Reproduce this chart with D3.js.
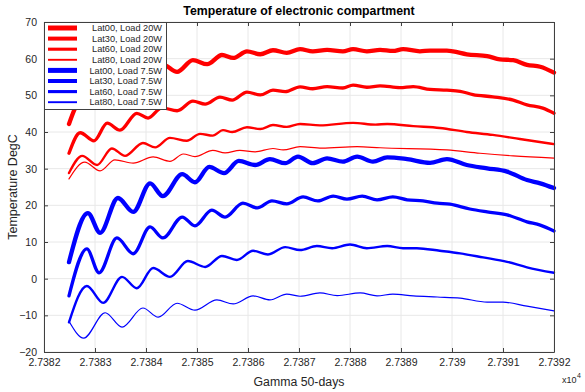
<!DOCTYPE html>
<html>
<head>
<meta charset="utf-8">
<script src="https://cdn.jsdelivr.net/npm/d3@7"></script>
<style>
  body { margin: 0; background: #fff; }
  svg { font-family: "Liberation Sans", Arial, sans-serif; }
</style>
</head>
<body>
<div id="chart"></div>
<script>
// days are offsets from 27382 (x axis shown in units of 1e4)
const DAY0 = 27382;

const lat00_20W = [[0.49,42.2],[0.61,46.5],[0.80,50.5],[1.04,48.3],[1.33,53.0],[1.55,51.4],[1.85,55.3],[2.08,54.0],[2.33,58.4],[2.61,56.4],[2.92,59.6],[3.20,58.5],[3.49,61.0],[3.71,60.2],[3.98,62.0],[4.24,61.2],[4.49,62.3],[4.76,61.6],[5.02,62.6],[5.27,62.0],[5.55,62.4],[5.86,62.0],[6.06,62.6],[6.33,62.0],[6.59,62.4],[6.84,62.1],[7.04,62.6],[7.37,62.0],[7.57,62.2],[7.90,62.2],[8.02,62.0],[8.29,61.2],[8.69,60.7],[8.94,59.8],[9.20,59.6],[9.47,58.3],[9.73,57.8],[10.0,56.2]];
const lat30_20W = [[0.49,34.2],[0.71,39.8],[0.98,37.6],[1.24,42.4],[1.49,40.5],[1.82,45.1],[2.04,43.8],[2.31,46.6],[2.61,45.8],[2.92,48.4],[3.16,47.6],[3.45,49.5],[3.69,48.7],[3.98,50.9],[4.24,50.1],[4.49,51.4],[4.73,51.0],[5.02,52.3],[5.27,51.8],[5.55,52.4],[5.86,52.0],[6.06,52.8],[6.33,52.2],[6.59,52.6],[6.98,52.1],[7.24,52.4],[7.57,51.6],[7.90,51.4],[8.16,51.1],[8.41,50.2],[8.80,49.6],[9.20,48.7],[9.47,47.4],[9.78,46.5],[10.0,45.1]];
const lat60_20W = [[0.49,28.8],[0.75,33.5],[1.04,31.0],[1.33,35.5],[1.59,33.5],[1.94,37.0],[2.18,35.8],[2.47,38.4],[2.80,37.6],[3.06,39.5],[3.31,39.0],[3.51,40.5],[3.69,40.0],[3.98,41.3],[4.24,40.8],[4.49,41.9],[4.76,41.4],[5.02,42.2],[5.41,41.8],[6.06,42.5],[6.50,42.0],[6.73,42.2],[7.24,41.6],[7.76,41.1],[8.29,40.0],[8.80,39.2],[9.33,38.1],[10.0,36.7]];
const lat80_20W = [[0.49,27.2],[0.80,31.8],[1.10,29.4],[1.39,32.4],[1.75,31.5],[2.14,33.2],[2.47,32.0],[2.73,34.0],[2.96,33.3],[3.31,35.0],[3.55,34.3],[3.84,35.0],[4.14,34.6],[4.49,35.5],[4.69,35.1],[5.02,36.0],[5.45,35.6],[6.14,36.0],[6.59,35.7],[7.90,35.1],[8.55,34.2],[9.20,33.5],[10.0,32.9]];
const lat00_75W = [[0.49,4.5],[0.86,17.9],[1.10,12.5],[1.45,22.0],[1.75,18.2],[2.08,26.0],[2.33,22.5],[2.71,28.5],[2.96,26.3],[3.24,30.5],[3.53,28.8],[3.82,32.1],[4.14,31.0],[4.43,32.6],[4.73,31.5],[4.98,33.3],[5.27,31.5],[5.55,32.8],[5.86,31.9],[6.14,33.3],[6.45,31.9],[6.73,33.1],[7.12,32.6],[7.57,31.6],[7.90,32.6],[8.29,31.0],[8.69,30.1],[9.08,29.2],[9.47,26.9],[9.73,26.0],[10.0,24.7]];
const lat30_75W = [[0.49,-4.7],[0.84,8.1],[1.08,1.6],[1.43,11.1],[1.75,6.8],[2.08,14.1],[2.33,11.1],[2.71,16.8],[2.96,14.4],[3.29,18.7],[3.55,16.8],[3.90,20.6],[4.18,19.3],[4.47,21.2],[4.76,20.4],[5.08,22.3],[5.37,21.2],[5.67,22.5],[5.94,21.7],[6.24,22.5],[6.53,21.5],[6.84,22.3],[7.12,21.5],[7.43,21.2],[7.71,20.6],[7.96,20.3],[8.35,19.0],[8.69,18.2],[9.08,17.4],[9.47,15.5],[9.73,14.6],[10.0,13.0]];
const lat60_75W = [[0.49,-11.9],[0.84,-2.0],[1.16,-6.6],[1.53,0.5],[1.82,-2.6],[2.14,2.9],[2.47,0.5],[2.82,4.8],[3.16,3.2],[3.49,6.2],[3.78,5.1],[4.10,7.6],[4.39,6.6],[4.73,8.6],[5.02,7.8],[5.35,8.9],[5.65,8.3],[6.00,9.3],[6.33,8.3],[6.73,8.9],[7.04,8.3],[7.31,8.3],[7.76,7.6],[8.16,6.9],[8.61,5.8],[9.08,4.6],[9.47,3.1],[10.0,1.6]];
const lat80_75W = [[0.49,-11.6],[0.78,-16.2],[1.20,-9.3],[1.53,-13.2],[1.94,-8.0],[2.24,-10.5],[2.61,-6.7],[2.96,-8.6],[3.39,-5.8],[3.71,-6.9],[4.10,-4.7],[4.43,-5.8],[4.76,-4.2],[5.02,-4.8],[5.41,-3.9],[5.75,-4.6],[6.20,-3.9],[6.53,-4.7],[6.84,-4.2],[7.24,-4.7],[7.71,-5.0],[8.16,-5.3],[8.69,-6.4],[9.00,-6.4],[9.47,-7.5],[10.0,-8.8]];

const seriesNames = ["Lat00, Load 20W", "Lat30, Load 20W", "Lat60, Load 20W", "Lat80, Load 20W",
  "Lat00, Load 7.5W", "Lat30, Load 7.5W", "Lat60, Load 7.5W", "Lat80, Load 7.5W"];
const seriesData = [lat00_20W, lat30_20W, lat60_20W, lat80_20W, lat00_75W, lat30_75W, lat60_75W, lat80_75W];
const seriesColors = ["#ff0000", "#ff0000", "#ff0000", "#ff0000", "#0000ff", "#0000ff", "#0000ff", "#0000ff"];
const seriesWidths = [4.3, 3.3, 2.4, 1.2, 4.3, 3.3, 2.4, 1.2];

const xTicks = [27382, 27383, 27384, 27385, 27386, 27387, 27388, 27389, 27390, 27391, 27392];
const yTicks = [-20, -10, 0, 10, 20, 30, 40, 50, 60, 70];

const width = 585, height = 392;
const margin = {top: 22, right: 31, bottom: 40, left: 44};
const innerW = width - margin.left - margin.right;
const innerH = height - margin.top - margin.bottom;

const svg = d3.select("#chart").append("svg")
  .attr("width", width)
  .attr("height", height);

const g = svg.append("g")
  .attr("transform", `translate(${margin.left},${margin.top})`);

const x = d3.scaleLinear().domain([27382, 27392]).range([0, innerW]);
const y = d3.scaleLinear().domain([-20, 70]).range([innerH, 0]);

// grid
g.append("g").selectAll("line")
  .data(xTicks)
  .join("line")
  .attr("x1", d => x(d)).attr("x2", d => x(d))
  .attr("y1", 0).attr("y2", innerH)
  .attr("stroke", "#e8e8e8");
g.append("g").selectAll("line")
  .data(yTicks)
  .join("line")
  .attr("x1", 0).attr("x2", innerW)
  .attr("y1", d => y(d)).attr("y2", d => y(d))
  .attr("stroke", "#e8e8e8");

// lines
const line = d3.line()
  .x(d => x(DAY0 + d[0]))
  .y(d => y(d[1]))
  .curve(d3.curveMonotoneX);

g.append("g")
  .attr("fill", "none")
  .attr("stroke-linejoin", "round")
  .attr("stroke-linecap", "round")
  .selectAll("path")
  .data(seriesData)
  .join("path")
  .attr("stroke", (d, i) => seriesColors[i])
  .attr("stroke-width", (d, i) => seriesWidths[i])
  .attr("d", line);

// axes (inward ticks on all sides, MATLAB style)
const fmtX = d => d3.format(".4~f")(d / 1e4);
g.append("g")
  .attr("transform", `translate(0,${innerH})`)
  .call(d3.axisBottom(x).tickValues(xTicks).tickFormat(fmtX).tickSizeInner(-4).tickSizeOuter(0).tickPadding(7));
g.append("g")
  .call(d3.axisLeft(y).tickValues(yTicks).tickSizeInner(-4).tickSizeOuter(0).tickPadding(7));
g.append("g")
  .call(d3.axisTop(x).tickValues(xTicks).tickFormat("").tickSizeInner(-4).tickSizeOuter(0));
g.append("g")
  .attr("transform", `translate(${innerW},0)`)
  .call(d3.axisRight(y).tickValues(yTicks).tickFormat("").tickSizeInner(-4).tickSizeOuter(0));

g.selectAll(".domain").attr("stroke", "#404040");
g.selectAll(".tick line").attr("stroke", "#404040");
g.selectAll(".tick text")
  .attr("fill", "#262626")
  .style("font-size", "10.5px")
  .style("font-family", "'Liberation Sans', Arial, sans-serif");

// exponent label
svg.append("text")
  .attr("x", 562)
  .attr("y", 383)
  .attr("fill", "#262626")
  .style("font-size", "9px")
  .text("x10");
svg.append("text")
  .attr("x", 577)
  .attr("y", 378)
  .attr("fill", "#262626")
  .style("font-size", "7px")
  .text("4");

// title & labels
svg.append("text")
  .attr("x", margin.left + innerW / 2)
  .attr("y", 15)
  .attr("text-anchor", "middle")
  .style("font-size", "12.3px")
  .style("font-weight", "bold")
  .text("Temperature of electronic compartment");

svg.append("text")
  .attr("x", margin.left + innerW / 2)
  .attr("y", 386)
  .attr("text-anchor", "middle")
  .attr("fill", "#262626")
  .style("font-size", "12.3px")
  .text("Gamma 50-days");

svg.append("text")
  .attr("transform", `translate(17,${margin.top + innerH / 2}) rotate(-90)`)
  .attr("text-anchor", "middle")
  .attr("fill", "#262626")
  .style("font-size", "12.5px")
  .text("Temperature DegC");

// legend
const legend = g.append("g");
legend.append("rect")
  .attr("x", 0.5).attr("y", 0.5)
  .attr("width", 122).attr("height", 87)
  .attr("fill", "#fff")
  .attr("stroke", "#404040");

const rows = legend.selectAll("g.row")
  .data(seriesNames)
  .join("g")
  .attr("class", "row")
  .attr("transform", (d, i) => `translate(0,${6 + i * 10.6})`);

rows.append("line")
  .attr("x1", 4).attr("x2", 33)
  .attr("stroke", (d, i) => seriesColors[i])
  .attr("stroke-width", (d, i) => seriesWidths[i] + 0.7);

rows.append("text")
  .attr("x", 118)
  .attr("dy", "0.35em")
  .attr("text-anchor", "end")
  .attr("fill", "#262626")
  .style("font-size", "9.2px")
  .text(d => d);
</script>
</body>
</html>
